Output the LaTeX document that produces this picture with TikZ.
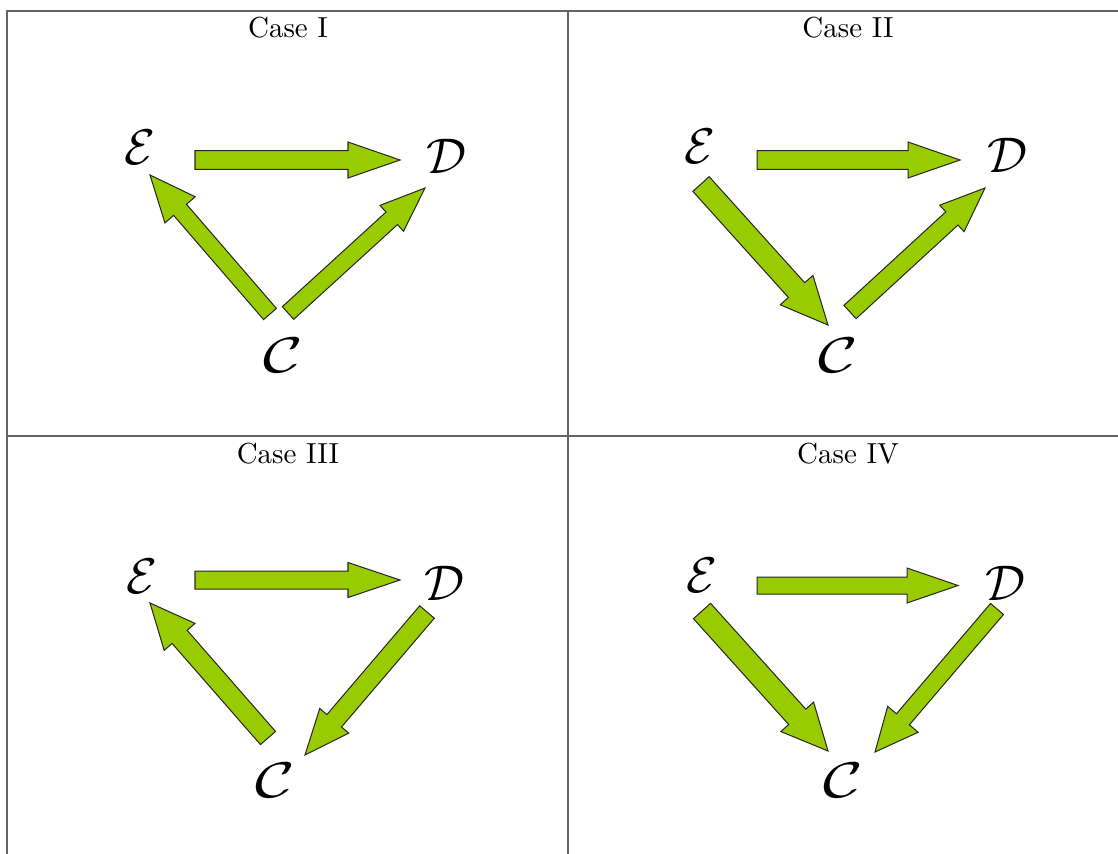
\documentclass[tikz,border=0pt]{standalone}
\usetikzlibrary{calc}
\definecolor{fatgreen}{RGB}{153,204,0}
\definecolor{rulegray}{RGB}{100,100,100}
\tikzset{
  fat/.style={fill=fatgreen, draw=black!85, line width=0.35pt, line join=miter},
  rulel/.style={draw=rulegray, line width=0.7pt},
  casehead/.style={anchor=base, inner sep=0pt, font=\normalsize},
  letter/.style={inner sep=0pt, font=\fontsize{18}{18}\selectfont},
  wideletter/.style={letter, xscale=1.35},
}
% from, to, shaft half-width, head half-width, head length (all in px)
\newcommand\fatarrow[5]{%
  \coordinate (fah) at ($(#2)!#5*0.345pt!(#1)$);
  \path[fat] ($(#1)!#3*0.345pt!90:(#2)$) -- ($(fah)!#3*0.345pt!90:(#2)$)
    -- ($(fah)!#4*0.345pt!90:(#2)$) -- (#2)
    -- ($(fah)!#4*0.345pt!-90:(#2)$) -- ($(fah)!#3*0.345pt!-90:(#2)$)
    -- ($(#1)!#3*0.345pt!-90:(#2)$) -- cycle;}
\begin{document}
\begin{tikzpicture}[x=0.345pt,y=-0.345pt]
\useasboundingbox (0,0) rectangle (1118,854);
% table rules
\draw[rulel] (7,854) -- (7,11) -- (1118,11);
\draw[rulel] (568,11) -- (568,854);
\draw[rulel] (7,436) -- (1118,436);
% headers
\node[casehead] (h1) at (288,38) {Case I};
\node[casehead] (h2) at (848,38) {Case II};
\node[casehead] (h3) at (288,463) {Case III};
\node[casehead] (h4) at (848,463) {Case IV};
% ---------- Case I ----------
\node[letter] (e1) at (140,147) {$\mathcal{E}$};
\node[letter] (d1) at (447,156) {$\mathcal{D}$};
\node[wideletter] (c1) at (283,355) {$\mathcal{C}$};
\coordinate (a1s) at (195,160); \coordinate (a1t) at (400,160);
\coordinate (b1s) at (270,314); \coordinate (b1t) at (150,175);
\coordinate (g1s) at (288,313); \coordinate (g1t) at (425,188);
\fatarrow{a1s}{a1t}{9.3}{18}{52}
\fatarrow{b1s}{b1t}{8.5}{20}{46}
\fatarrow{g1s}{g1t}{8.5}{17.5}{45}
% ---------- Case II ----------
\node[letter] (e2) at (700,146) {$\mathcal{E}$};
\node[letter] (d2) at (1008,155) {$\mathcal{D}$};
\node[wideletter] (c2) at (838,355) {$\mathcal{C}$};
\coordinate (a2s) at (757,160); \coordinate (a2t) at (960,160);
\coordinate (b2s) at (701,184); \coordinate (b2t) at (828,325);
\coordinate (g2s) at (850,312); \coordinate (g2t) at (985,188);
\fatarrow{a2s}{a2t}{9.3}{18}{52}
\fatarrow{b2s}{b2t}{11}{22}{47}
\fatarrow{g2s}{g2t}{9}{18}{45}
% ---------- Case III ----------
\node[letter] (e3) at (142,576) {$\mathcal{E}$};
\node[letter] (d3) at (445,583) {$\mathcal{D}$};
\node[wideletter] (c3) at (275,780) {$\mathcal{C}$};
\coordinate (a3s) at (195,580); \coordinate (a3t) at (400,580);
\coordinate (b3s) at (268,738); \coordinate (b3t) at (150,603);
\coordinate (g3s) at (427,612); \coordinate (g3t) at (305,755);
\fatarrow{a3s}{a3t}{9}{17.5}{52}
\fatarrow{b3s}{b3t}{10}{20.5}{45}
\fatarrow{g3s}{g3t}{9.6}{19}{45}
% ---------- Case IV ----------
\node[letter] (e4) at (702,575) {$\mathcal{E}$};
\node[letter] (d4) at (1006,583) {$\mathcal{D}$};
\node[wideletter] (c4) at (843,780) {$\mathcal{C}$};
\coordinate (a4s) at (757,585.5); \coordinate (a4t) at (958,585.5);
\coordinate (b4s) at (702,611); \coordinate (b4t) at (828,751);
\coordinate (g4s) at (997,609); \coordinate (g4t) at (875,752);
\fatarrow{a4s}{a4t}{8.5}{17.5}{51}
\fatarrow{b4s}{b4t}{11.5}{22}{46}
\fatarrow{g4s}{g4t}{8.5}{20}{43}
\end{tikzpicture}
\end{document}
